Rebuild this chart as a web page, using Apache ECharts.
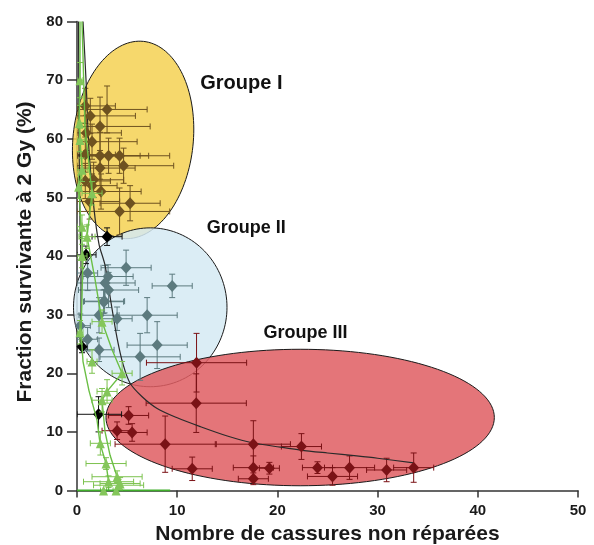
<!DOCTYPE html>
<html><head><meta charset="utf-8">
<script src="https://cdn.jsdelivr.net/npm/echarts@6/dist/echarts.min.js"></script>
<style>html,body{margin:0;padding:0;background:#fff}#c{width:594px;height:545px}</style>
</head><body><div id="c"></div>
<script>
// ---- data: [x, y, xErr, yErr] ----
const groupI = [
  [0.83,65.6,3,3],[3.0,65.0,4,4],[1.33,63.9,4.5,3],[2.3,62.1,5,5],[0.93,61.0,3.5,3],
  [1.5,59.5,4.5,3],[0.83,57.3,3,3],[2.3,57.1,4,4],[3.15,57.1,4,3],[4.25,57.1,5,3],
  [4.65,55.4,5,3],[2.3,55.0,3.5,3],[0.83,52.8,2.5,3],[1.66,53.0,3,3],[1.5,52.0,2.5,2],
  [2.4,51.0,4,3],[1.26,49.3,3,3],[5.3,49.0,3,3],[4.25,47.6,5,4]
];
const groupII = [
  [4.9,38.0,2.5,3],[9.5,34.9,2,2],[3.1,36.5,2.5,2],[2.8,35.4,3,3],[7.0,29.9,3,3],
  [4.0,29.3,1.5,2],[8.0,24.8,3,4],[6.3,22.8,4,4],[2.2,29.9,2,3],[2.2,24.0,1.5,2],
  [2.75,32.3,2,2],[1.06,37.1,1,3],[1.06,25.8,1,2],[0.33,28.1,1,2],[3.15,34.2,3,3],[2.65,32.2,2,2]
];
const groupIII = [
  [11.93,21.8,5,5],[11.9,14.9,5,5],[8.8,7.9,5,4.8],[17.6,7.9,3.7,4],[22.4,7.5,2,2.2],
  [11.5,3.7,2,2],[17.6,3.9,2,2],[19.2,3.8,1,1],[17.6,2.0,1.5,1],[24.0,3.9,1.5,1],
  [25.5,2.4,2.5,1.5],[27.2,3.9,2.5,2],[30.9,3.5,2,2],[33.6,3.9,2,2.5],
  [5.15,12.8,2,1.5],[4.0,10.2,1.5,1.5],[5.5,9.9,1.5,1.5]
];
const blackPts = [[3.0,43.3,1.5,1.5],[0.9,40.2,1,1.5],[2.15,13.0,2.3,3],[0.5,24.5,0.5,1]];
const greenPts = [
  [0.3,70,0.3,3],[0.26,62.7,0.5,3],[0.3,59.8,0.5,2],[0.5,54.7,0.6,2],[0.16,51.8,0.3,2],
  [1.5,50.7,1,2],[0.5,45,0.5,2],[1.0,43.3,0.8,2],[0.5,40,0.5,2],[0.3,27,0.3,2],[1.5,22,0.5,2],
  [2.5,28.8,1,2],[4.5,20,1,2],[3.0,16.9,1,2],[2.5,15.4,1,2],[2.33,8.05,1,2],[2.9,4.6,2,1],
  [4.0,2.35,2.5,1],[4.3,1.2,2,1],[3.15,1.5,2.5,1],[4.15,0.9,2.5,1],[2.65,0,0.3,0],[3.9,0,0.3,0]
];
// curves [x, y]
const greenCurveA = [[0.3,80],[0.3,70],[0.2,62.7],[0.3,59.8],[0.5,54.7],[0.2,51.8],[0.4,45],[0.6,40],[0.5,33],[0.4,27],[0.6,22],[1.2,17],[2.0,12],[2.3,8],[2.9,4.6],[3.15,1.5],[3.15,0]];
const greenCurveB = [[0.5,80],[0.8,62],[1.5,50.7],[1.0,43.3],[1.8,36],[2.5,28.8],[3.5,24],[4.5,20],[3.0,16.9],[2.5,15.4],[2.8,10],[3.3,6],[4.0,2.35],[4.3,1.2],[3.9,0]];
const greenBase = [[0,0],[9.3,0]];
const blackFit = [[0.6,80],[0.9,70],[1.2,58],[1.7,48],[2.2,42],[2.8,38.4],[3.4,32],[4.0,26],[4.6,21.5],[5.3,18.3],[6.5,16],[8,14],[10,12.4],[12.3,10.9],[15,9.3],[17.6,8.1],[20.3,7.4],[22.3,6.9],[25,6.4],[27.9,5.9],[30,5.5],[33.6,4.7]];
const blackLine2 = [[0.15,80],[0.2,60],[0.3,45],[0.4,40],[0.4,25]];
// group ellipses: [centreX, centreY, semiAxisX, semiAxisY, tiltDeg]
const groupEllipses = [[5.6,59.8,6.0,16.9,6],[7.31,31.25,7.66,13.55,0],[22.27,12.45,19.38,11.64,0]];
const groupNames = ['Groupe I','Groupe II','Groupe III'];

const FONT = 'Liberation Sans, Arial, Helvetica, sans-serif';
const ellFill = ['rgba(244,209,82,0.85)','rgba(213,234,243,0.85)','rgba(223,93,97,0.85)'];

function errRender(color){
  return function(params, api){
    const x=api.value(0), y=api.value(1), ex=api.value(2), ey=api.value(3);
    const l=api.coord([Math.max(0,x-ex),y]), r=api.coord([x+ex,y]);
    const t=api.coord([x,y+ey]), b=api.coord([x,Math.max(0,y-ey)]);
    const st={stroke:color,lineWidth:1};
    const ch=[];
    if(ex>0){
      ch.push({type:'line',shape:{x1:l[0],y1:l[1],x2:r[0],y2:r[1]},style:st});
      ch.push({type:'line',shape:{x1:l[0],y1:l[1]-3,x2:l[0],y2:l[1]+3},style:st});
      ch.push({type:'line',shape:{x1:r[0],y1:r[1]-3,x2:r[0],y2:r[1]+3},style:st});
    }
    if(ey>0){
      ch.push({type:'line',shape:{x1:t[0],y1:t[1],x2:b[0],y2:b[1]},style:st});
      ch.push({type:'line',shape:{x1:t[0]-3,y1:t[1],x2:t[0]+3,y2:t[1]},style:st});
      ch.push({type:'line',shape:{x1:b[0]-3,y1:b[1],x2:b[0]+3,y2:b[1]},style:st});
    }
    return {type:'group',children:ch};
  };
}
function errSeries(data,color,z){
  return {type:'custom',data:data,renderItem:errRender(color),encode:{x:0,y:1},clip:true,z:z,silent:true};
}
function markSeries(data,color,symbol,size,z){
  return {type:'scatter',data:data.map(d=>[d[0],d[1]]),symbol:symbol,symbolSize:size,
    itemStyle:{color:color,opacity:1},z:z,silent:true,clip:false};
}
function lineSeries(data,color,w,z,smooth){
  return {type:'line',data:data,symbol:'none',smooth:smooth||false,lineStyle:{color:color,width:w},z:z,silent:true,clip:true};
}

const chart = echarts.init(document.getElementById('c'));
chart.setOption({
  animation:false,
  backgroundColor:'#fff',
  grid:{left:77,right:16,top:21.5,bottom:54.5,containLabel:false,outerBoundsMode:'none'},
  xAxis:{type:'value',min:0,max:50,interval:10,
    name:'Nombre de cassures non réparées',nameLocation:'middle',nameGap:30,
    nameTextStyle:{fontFamily:FONT,fontWeight:'bold',fontSize:21,color:'#1a1a1a'},
    axisLine:{lineStyle:{color:'#333',width:1.5}},
    axisTick:{length:7,lineStyle:{color:'#333',width:1.5}},
    axisLabel:{margin:13,fontFamily:FONT,fontWeight:'bold',fontSize:15,color:'#1a1a1a'},
    splitLine:{show:false}},
  yAxis:{type:'value',min:0,max:80,interval:10,
    name:'Fraction survivante à 2 Gy (%)',nameLocation:'middle',nameGap:37,
    nameTextStyle:{fontFamily:FONT,fontWeight:'bold',fontSize:21,color:'#1a1a1a',padding:[0,0,0,8]},
    axisLine:{show:true,lineStyle:{color:'#333',width:1.5}},
    axisTick:{show:true,length:10,lineStyle:{color:'#333',width:1.5}},
    axisLabel:{margin:14,fontFamily:FONT,fontWeight:'bold',fontSize:15,color:'#1a1a1a'},
    splitLine:{show:false}},
  series:[
    {type:'custom',data:groupEllipses,encode:{x:0,y:1},clip:false,z:1,silent:true,
     renderItem:function(params,api){
       const c=api.coord([api.value(0),api.value(1)]);
       const rx=api.size([api.value(2),0])[0], ry=api.size([0,api.value(3)])[1];
       const a=api.value(4)*Math.PI/180;
       const pts=[];
       for(let i=0;i<144;i++){
         const t=i/144*2*Math.PI;
         const px=rx*Math.cos(t), py=ry*Math.sin(t);
         pts.push([c[0]+px*Math.cos(a)-py*Math.sin(a), c[1]+px*Math.sin(a)+py*Math.cos(a)]);
       }
       return {type:'polygon',shape:{points:pts},style:{fill:ellFill[params.dataIndex],stroke:'#1a1a1a',lineWidth:1}};
     }},
    errSeries(groupI,'#6e5220',3),
    errSeries(groupII,'#5c7a7e',3),
    errSeries(groupIII,'#7b1216',3),
    errSeries(blackPts,'#111',3),
    lineSeries(blackFit,'#2a2a2a',1.2,4,0.3),
    lineSeries(blackLine2,'#2a2a2a',1.2,4,false),
    markSeries(groupI,'#6e5220','diamond',[11,12],5),
    markSeries(groupII,'#5c7a7e','diamond',[11,12],5),
    markSeries(groupIII,'#7b1216','diamond',[11,12],5),
    markSeries(blackPts,'#000','diamond',[11,12],5),
    errSeries(greenPts,'#7cc24e',6),
    lineSeries(greenCurveA,'#6bbf45',1.4,6,false),
    lineSeries(greenCurveB,'#6bbf45',1.4,6,false),
    lineSeries(greenBase,'#3fae2a',2,6,false),
    markSeries(greenPts,'#84c65a','triangle',[9,10],7),
    {type:'custom',data:[[16.4,69.45,0],[16.9,44.8,1],[22.8,26.9,2]],encode:{x:0,y:1},clip:false,z:8,silent:true,
     renderItem:function(params,api){
       const c=api.coord([api.value(0),api.value(1)]);
       const i=api.value(2);
       return {type:'text',x:c[0],y:c[1],style:{text:groupNames[i],fill:'#111',
         font:'bold '+(i===0?20:18)+'px '+FONT,align:'center',verticalAlign:'middle'}};
     }}
  ]
});
</script></body></html>
